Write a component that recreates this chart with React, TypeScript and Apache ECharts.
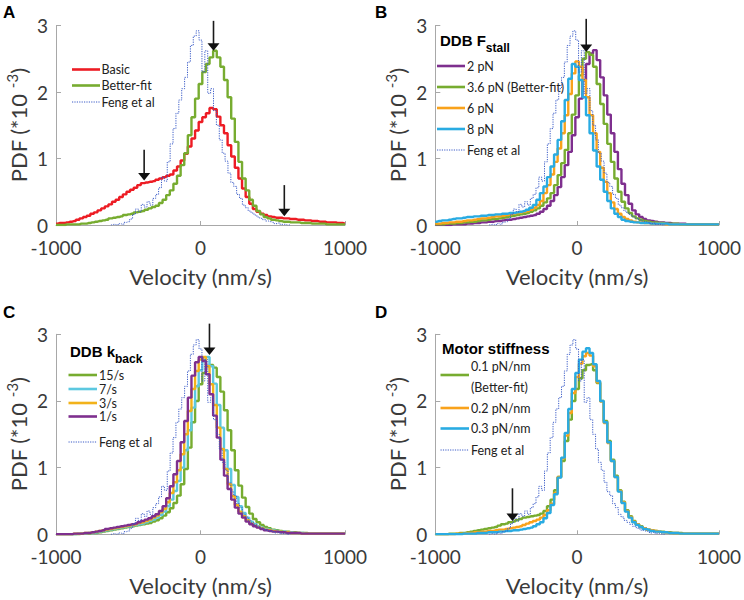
import React, { useEffect, useRef } from "react";
import * as echarts from "echarts";

// ---------- histogram bins ----------
const BIN_START = -1000;
const BIN_STEP = 25;
const FENG_START = -620;
const FENG_STEP = 20;

// ---------- Panel A ----------
const basicA = [
  0.02, 0.03, 0.03, 0.04, 0.05, 0.06, 0.08, 0.10, 0.12, 0.14,
  0.17, 0.19, 0.22, 0.25, 0.28, 0.31, 0.35, 0.38, 0.42, 0.46,
  0.50, 0.53, 0.56, 0.60, 0.63, 0.64, 0.65, 0.66, 0.68, 0.70,
  0.72, 0.74, 0.76, 0.82, 0.88, 0.97, 1.07, 1.18, 1.30, 1.42,
  1.55, 1.62, 1.68, 1.76, 1.74, 1.63, 1.50, 1.38, 1.20, 1.03,
  0.86, 0.70, 0.55, 0.42, 0.32, 0.24, 0.20, 0.17, 0.15, 0.13,
  0.12, 0.11, 0.11, 0.10, 0.10, 0.09, 0.09, 0.08, 0.08, 0.07,
  0.07, 0.06, 0.06, 0.05, 0.05, 0.04, 0.04, 0.04, 0.03, 0.03,
  0.02,
];
const betterFitA = [
  0.00, 0.00, 0.00, 0.01, 0.01, 0.01, 0.01, 0.02, 0.02, 0.03,
  0.04, 0.05, 0.06, 0.07, 0.08, 0.10, 0.11, 0.12, 0.13, 0.15,
  0.16, 0.17, 0.19, 0.20, 0.21, 0.23, 0.25, 0.27, 0.29, 0.33,
  0.38, 0.45, 0.52, 0.62, 0.74, 0.90, 1.08, 1.35, 1.62, 1.90,
  2.12, 2.30, 2.42, 2.52, 2.62, 2.52, 2.38, 2.18, 1.92, 1.60,
  1.25, 0.95, 0.70, 0.52, 0.38, 0.29, 0.21, 0.16, 0.12, 0.10,
  0.08, 0.07, 0.06, 0.05, 0.05, 0.04, 0.04, 0.04, 0.03, 0.03,
  0.03, 0.02, 0.02, 0.02, 0.02, 0.01, 0.01, 0.01, 0.01, 0.01,
  0.01,
];

// ---------- Feng et al (experimental, shared by all panels) ----------
const fengPdf = [
  0.00, 0.01, 0.00, 0.02, 0.01, 0.04, 0.05, 0.09, 0.16, 0.24,
  0.20, 0.31, 0.27, 0.35, 0.30, 0.40, 0.46, 0.56, 0.72, 0.66,
  0.95, 1.22, 1.45, 1.68, 1.88, 2.05, 2.22, 2.45, 2.70, 2.84,
  2.92, 2.78, 2.30, 2.62, 1.98, 2.05, 1.72, 1.50, 1.28, 1.08,
  0.96, 0.78, 0.64, 0.58, 0.46, 0.40, 0.30, 0.26, 0.21, 0.18,
  0.15, 0.12, 0.10, 0.08, 0.06, 0.05, 0.04, 0.02, 0.03, 0.01,
  0.01, 0.00, 0.00,
];

// ---------- Panel B : DDB Fstall ----------
const stall2pN = [
  0.00, 0.00, 0.00, 0.00, 0.00, 0.01, 0.01, 0.01, 0.01, 0.02,
  0.02, 0.03, 0.03, 0.04, 0.04, 0.05, 0.05, 0.06, 0.06, 0.07,
  0.08, 0.08, 0.09, 0.10, 0.11, 0.12, 0.13, 0.14, 0.15, 0.17,
  0.20, 0.24, 0.29, 0.36, 0.45, 0.57, 0.72, 0.90, 1.10, 1.35,
  1.62, 1.90, 2.18, 2.42, 2.58, 2.63, 2.48, 2.22, 1.95, 1.66,
  1.38, 1.10, 0.84, 0.62, 0.45, 0.32, 0.22, 0.16, 0.12, 0.09,
  0.07, 0.06, 0.05, 0.04, 0.04, 0.03, 0.03, 0.02, 0.02, 0.02,
  0.02, 0.01, 0.01, 0.01, 0.01, 0.01, 0.01, 0.01, 0.01, 0.01,
  0.01,
];
const stall36pN = [
  0.01, 0.01, 0.01, 0.02, 0.02, 0.02, 0.03, 0.03, 0.04, 0.04,
  0.05, 0.05, 0.06, 0.07, 0.07, 0.08, 0.09, 0.09, 0.10, 0.11,
  0.12, 0.13, 0.14, 0.15, 0.16, 0.17, 0.18, 0.20, 0.22, 0.25,
  0.29, 0.34, 0.40, 0.48, 0.60, 0.75, 0.93, 1.13, 1.38, 1.66,
  1.95, 2.25, 2.50, 2.60, 2.56, 2.38, 2.12, 1.82, 1.52, 1.22,
  0.95, 0.70, 0.50, 0.35, 0.25, 0.18, 0.13, 0.10, 0.08, 0.06,
  0.05, 0.04, 0.04, 0.03, 0.03, 0.02, 0.02, 0.02, 0.02, 0.01,
  0.01, 0.01, 0.01, 0.01, 0.01, 0.01, 0.01, 0.01, 0.01, 0.01,
  0.01,
];
const stall6pN = [
  0.02, 0.02, 0.03, 0.03, 0.04, 0.04, 0.05, 0.05, 0.06, 0.07,
  0.07, 0.08, 0.09, 0.10, 0.10, 0.11, 0.12, 0.13, 0.13, 0.14,
  0.15, 0.16, 0.17, 0.18, 0.19, 0.20, 0.21, 0.23, 0.26, 0.30,
  0.36, 0.48, 0.60, 0.76, 0.95, 1.15, 1.38, 1.65, 1.97, 2.28,
  2.46, 2.38, 2.18, 1.92, 1.65, 1.38, 1.10, 0.86, 0.65, 0.48,
  0.34, 0.24, 0.17, 0.12, 0.09, 0.07, 0.05, 0.04, 0.04, 0.03,
  0.03, 0.02, 0.02, 0.02, 0.02, 0.01, 0.01, 0.01, 0.01, 0.01,
  0.01, 0.01, 0.01, 0.01, 0.01, 0.01, 0.01, 0.01, 0.01, 0.01,
  0.01,
];
const stall8pN = [
  0.05, 0.06, 0.07, 0.07, 0.08, 0.09, 0.10, 0.10, 0.11, 0.12,
  0.12, 0.13, 0.13, 0.14, 0.14, 0.15, 0.15, 0.16, 0.16, 0.17,
  0.17, 0.18, 0.18, 0.19, 0.20, 0.21, 0.23, 0.26, 0.30, 0.38,
  0.48, 0.58, 0.72, 0.88, 1.06, 1.28, 1.56, 1.88, 2.20, 2.42,
  2.38, 2.18, 1.92, 1.65, 1.38, 1.12, 0.88, 0.68, 0.50, 0.36,
  0.25, 0.17, 0.12, 0.08, 0.06, 0.05, 0.04, 0.04, 0.03, 0.03,
  0.03, 0.02, 0.02, 0.02, 0.02, 0.02, 0.01, 0.01, 0.01, 0.01,
  0.01, 0.01, 0.01, 0.01, 0.01, 0.01, 0.01, 0.01, 0.01, 0.01,
  0.01,
];

// ---------- Panel C : DDB kback ----------
const kback15 = [
  0.00, 0.00, 0.00, 0.00, 0.00, 0.00, 0.00, 0.01, 0.01, 0.01,
  0.02, 0.02, 0.03, 0.04, 0.05, 0.06, 0.07, 0.08, 0.09, 0.10,
  0.11, 0.12, 0.13, 0.14, 0.15, 0.16, 0.17, 0.19, 0.21, 0.24,
  0.28, 0.33, 0.39, 0.47, 0.58, 0.75, 0.98, 1.30, 1.68, 2.00,
  2.25, 2.42, 2.52, 2.54, 2.50, 2.36, 2.14, 1.86, 1.56, 1.26,
  0.96, 0.73, 0.55, 0.41, 0.31, 0.23, 0.18, 0.14, 0.11, 0.09,
  0.07, 0.06, 0.05, 0.04, 0.04, 0.03, 0.03, 0.02, 0.02, 0.02,
  0.01, 0.01, 0.01, 0.01, 0.01, 0.01, 0.01, 0.01, 0.01, 0.01,
  0.01,
];
const kback7 = [
  0.00, 0.00, 0.00, 0.00, 0.00, 0.00, 0.01, 0.01, 0.01, 0.02,
  0.02, 0.03, 0.04, 0.05, 0.06, 0.07, 0.08, 0.09, 0.10, 0.11,
  0.12, 0.13, 0.14, 0.15, 0.16, 0.18, 0.20, 0.22, 0.25, 0.29,
  0.34, 0.42, 0.52, 0.65, 0.80, 1.00, 1.26, 1.56, 1.90, 2.22,
  2.46, 2.62, 2.66, 2.52, 2.26, 1.94, 1.60, 1.26, 0.98, 0.74,
  0.56, 0.42, 0.32, 0.25, 0.19, 0.15, 0.12, 0.10, 0.08, 0.07,
  0.06, 0.05, 0.04, 0.04, 0.03, 0.03, 0.02, 0.02, 0.02, 0.01,
  0.01, 0.01, 0.01, 0.01, 0.01, 0.01, 0.01, 0.01, 0.01, 0.01,
  0.01,
];
const kback3 = [
  0.00, 0.00, 0.00, 0.00, 0.00, 0.01, 0.01, 0.01, 0.02, 0.02,
  0.03, 0.04, 0.05, 0.06, 0.07, 0.08, 0.09, 0.10, 0.11, 0.12,
  0.13, 0.14, 0.15, 0.17, 0.18, 0.20, 0.22, 0.25, 0.28, 0.33,
  0.38, 0.48, 0.62, 0.78, 0.96, 1.20, 1.50, 1.85, 2.18, 2.45,
  2.62, 2.66, 2.52, 2.25, 1.94, 1.60, 1.28, 0.98, 0.75, 0.57,
  0.44, 0.34, 0.27, 0.21, 0.16, 0.13, 0.11, 0.09, 0.07, 0.06,
  0.05, 0.04, 0.04, 0.03, 0.03, 0.02, 0.02, 0.02, 0.01, 0.01,
  0.01, 0.01, 0.01, 0.01, 0.01, 0.01, 0.01, 0.01, 0.01, 0.01,
  0.01,
];
const kback1 = [
  0.00, 0.00, 0.00, 0.00, 0.00, 0.01, 0.01, 0.01, 0.02, 0.02,
  0.03, 0.04, 0.05, 0.06, 0.08, 0.09, 0.10, 0.11, 0.12, 0.13,
  0.14, 0.15, 0.16, 0.18, 0.20, 0.22, 0.24, 0.27, 0.30, 0.35,
  0.42, 0.54, 0.72, 0.90, 1.10, 1.38, 1.70, 2.05, 2.38, 2.58,
  2.66, 2.60, 2.40, 2.10, 1.78, 1.45, 1.12, 0.88, 0.68, 0.52,
  0.40, 0.31, 0.25, 0.19, 0.15, 0.12, 0.10, 0.08, 0.06, 0.05,
  0.04, 0.04, 0.03, 0.03, 0.02, 0.02, 0.02, 0.02, 0.01, 0.01,
  0.01, 0.01, 0.01, 0.01, 0.01, 0.01, 0.01, 0.01, 0.01, 0.01,
  0.01,
];

// ---------- Panel D : Motor stiffness ----------
const stiff01 = [
  0.00, 0.00, 0.00, 0.00, 0.01, 0.01, 0.01, 0.02, 0.02, 0.03,
  0.04, 0.05, 0.06, 0.07, 0.08, 0.09, 0.10, 0.11, 0.13, 0.15,
  0.16, 0.18, 0.19, 0.21, 0.23, 0.25, 0.26, 0.27, 0.28, 0.29,
  0.31, 0.35, 0.42, 0.52, 0.66, 0.86, 1.10, 1.40, 1.72, 2.00,
  2.18, 2.34, 2.46, 2.54, 2.55, 2.46, 2.27, 2.00, 1.70, 1.40,
  1.12, 0.88, 0.66, 0.49, 0.36, 0.27, 0.20, 0.15, 0.12, 0.09,
  0.07, 0.06, 0.05, 0.04, 0.04, 0.03, 0.03, 0.02, 0.02, 0.02,
  0.01, 0.01, 0.01, 0.01, 0.01, 0.01, 0.01, 0.01, 0.01, 0.01,
  0.01,
];
const stiff02 = [
  0.00, 0.00, 0.00, 0.00, 0.00, 0.00, 0.01, 0.01, 0.01, 0.02,
  0.02, 0.03, 0.03, 0.04, 0.04, 0.05, 0.05, 0.06, 0.07, 0.07,
  0.08, 0.09, 0.10, 0.11, 0.12, 0.14, 0.16, 0.18, 0.20, 0.22,
  0.25, 0.29, 0.36, 0.46, 0.62, 0.86, 1.14, 1.48, 1.82, 2.12,
  2.36, 2.56, 2.67, 2.72, 2.68, 2.52, 2.28, 1.99, 1.67, 1.37,
  1.10, 0.86, 0.65, 0.48, 0.35, 0.26, 0.19, 0.15, 0.11, 0.09,
  0.07, 0.06, 0.05, 0.04, 0.03, 0.03, 0.02, 0.02, 0.02, 0.01,
  0.01, 0.01, 0.01, 0.01, 0.01, 0.01, 0.01, 0.01, 0.01, 0.01,
  0.01,
];
const stiff03 = [
  0.00, 0.00, 0.00, 0.00, 0.00, 0.00, 0.00, 0.00, 0.01, 0.01,
  0.01, 0.01, 0.02, 0.02, 0.02, 0.03, 0.03, 0.03, 0.04, 0.04,
  0.05, 0.05, 0.06, 0.06, 0.07, 0.08, 0.09, 0.10, 0.12, 0.15,
  0.18, 0.24, 0.32, 0.44, 0.60, 0.85, 1.15, 1.52, 1.88, 2.18,
  2.42, 2.62, 2.74, 2.79, 2.72, 2.55, 2.30, 2.00, 1.68, 1.38,
  1.10, 0.86, 0.64, 0.47, 0.34, 0.25, 0.18, 0.14, 0.11, 0.08,
  0.07, 0.05, 0.04, 0.04, 0.03, 0.03, 0.02, 0.02, 0.02, 0.01,
  0.01, 0.01, 0.01, 0.01, 0.01, 0.01, 0.01, 0.01, 0.01, 0.01,
  0.01,
];

// ---------- arrows: [velocity, pdf at tail, pdf at tip] ----------
const arrowsA = [[90, 3.07, 2.62], [-390, 1.13, 0.67], [580, 0.6, 0.13]];
const arrowsB = [[64, 3.1, 2.6]];
const arrowsC = [[62, 3.16, 2.69]];
const arrowsD = [[-456, 0.69, 0.2]];

// ---------- colours ----------
const RED = "#ED1C24";
const GREEN = "#77AC30";
const PURPLE = "#7E2F8E";
const ORANGE = "#F9A21B";
const BLUE = "#29ABE2";
const CYAN = "#5CC8E0";
const GOLD = "#F2B21A";
const FENG = "#3A5BC7";

const TXT = "#3a3a3a";
const AXIS = "#a8a8a8";
const LAT = "Lato, 'Open Sans', sans-serif";
const ARIAL = "'Liberation Sans', Arial, sans-serif";

const grids = [
  { left: 56, top: 25.5, width: 289, height: 199.5 },
  { left: 435.3, top: 25.5, width: 288.4, height: 199.5 },
  { left: 56, top: 334.3, width: 289, height: 200 },
  { left: 435.3, top: 334.3, width: 288.4, height: 200 },
];

function pairs(ys: number[], start: number, step: number) {
  return ys.map((y, i) => [start + i * step, y]);
}

function model(name: string, ys: number[], color: string, p: number) {
  return {
    type: "line",
    name,
    xAxisIndex: p,
    yAxisIndex: p,
    data: pairs(ys, BIN_START, BIN_STEP),
    step: "middle",
    showSymbol: false,
    symbol: "none",
    silent: true,
    lineStyle: { color, width: 2.4 },
    itemStyle: { color },
  };
}

function feng(p: number) {
  return {
    type: "line",
    name: "Feng et al",
    xAxisIndex: p,
    yAxisIndex: p,
    data: pairs(fengPdf, FENG_START, FENG_STEP),
    step: "middle",
    showSymbol: false,
    symbol: "none",
    silent: true,
    lineStyle: { color: FENG, width: 1, type: [1.2, 1.2] },
    itemStyle: { color: FENG },
  };
}

function arrows(data: number[][], p: number) {
  return {
    type: "custom",
    xAxisIndex: p,
    yAxisIndex: p,
    data,
    clip: false,
    silent: true,
    z: 10,
    renderItem: (params: any, api: any) => {
      const top = api.coord([api.value(0), api.value(1)]);
      const tip = api.coord([api.value(0), api.value(2)]);
      const hh = 7.5;
      const hw = 6;
      return {
        type: "group",
        children: [
          {
            type: "line",
            shape: { x1: top[0], y1: top[1], x2: tip[0], y2: tip[1] - hh + 1 },
            style: { stroke: "#1a1a1a", lineWidth: 1.6 },
          },
          {
            type: "polygon",
            shape: {
              points: [
                [tip[0] - hw, tip[1] - hh],
                [tip[0] + hw, tip[1] - hh],
                [tip[0], tip[1]],
              ],
            },
            style: { fill: "#111" },
          },
        ],
      };
    },
  };
}

function xAxis(p: number) {
  return {
    type: "value",
    gridIndex: p,
    min: -1000,
    max: 1000,
    interval: 1000,
    axisLine: { show: true, onZero: false, lineStyle: { color: AXIS, width: 1 } },
    axisTick: { show: true, inside: true, length: 4, lineStyle: { color: AXIS } },
    axisLabel: {
      color: TXT,
      fontSize: 19,
      fontFamily: LAT,
      margin: 13,
      formatter: (v: number) => String(v),
    },
    splitLine: { show: false },
    name: "Velocity (nm/s)",
    nameLocation: "middle",
    nameGap: 40,
    nameTextStyle: { color: TXT, fontSize: 22, fontFamily: LAT },
  };
}

function yAxis(p: number) {
  return {
    type: "value",
    gridIndex: p,
    min: 0,
    max: 3,
    interval: 1,
    axisLine: { show: true, onZero: false, lineStyle: { color: AXIS, width: 1 } },
    axisTick: { show: true, inside: true, length: 5, lineStyle: { color: AXIS } },
    axisLabel: { color: TXT, fontSize: 19, fontFamily: LAT, margin: 8 },
    splitLine: { show: false },
    name: "{a|PDF (*10 }{s|-3}{a|)}",
    nameLocation: "middle",
    nameRotate: 90,
    nameGap: 24,
    nameTextStyle: {
      color: TXT,
      rich: {
        a: { fontSize: 22, fontFamily: LAT, color: TXT, lineHeight: 28 },
        s: { fontSize: 15, fontFamily: LAT, color: TXT, lineHeight: 14, verticalAlign: "top" },
      },
    },
  };
}

type Item = { label: string; color: string; y: number; dotted?: boolean; lineY?: number };

function legend(items: Item[], x1: number, x2: number, tx: number) {
  const els: any[] = [];
  items.forEach((it) => {
    if (it.color) {
      const ly = it.lineY ?? it.y;
      els.push({
        type: "line",
        silent: true,
        shape: { x1, y1: ly, x2, y2: ly },
        style: it.dotted
          ? { stroke: it.color, lineWidth: 1, lineDash: [1.2, 1.2] }
          : { stroke: it.color, lineWidth: 2.6 },
      });
    }
    els.push({
      type: "text",
      silent: true,
      x: tx,
      y: it.y,
      style: {
        text: it.label,
        fill: "#222",
        fontSize: 12.5,
        fontFamily: LAT,
        verticalAlign: "middle",
        align: "left",
      },
    });
  });
  return els;
}

function title(x: number, y: number, main: string, sub: string, size = 15) {
  return {
    type: "text",
    silent: true,
    x,
    y,
    style: {
      text: sub ? `{a|${main}}{b|${sub}}` : `{a|${main}}`,
      rich: {
        a: { fontSize: size, fontWeight: "bold", fontFamily: ARIAL, fill: "#000", lineHeight: 28 },
        b: { fontSize: 12, fontWeight: "bold", fontFamily: ARIAL, fill: "#000", lineHeight: 12, verticalAlign: "bottom" },
      },
      verticalAlign: "middle",
      align: "left",
    },
  };
}

function panelLabel(x: number, y: number, t: string) {
  return {
    type: "text",
    silent: true,
    x,
    y,
    style: { text: t, fontSize: 17, fontWeight: "bold", fontFamily: ARIAL, fill: "#000", verticalAlign: "middle" },
  };
}

function buildOption() {
  const graphic: any[] = [
    panelLabel(3, 12.5, "A"),
    panelLabel(375, 12.5, "B"),
    panelLabel(3, 312.5, "C"),
    panelLabel(375, 312.5, "D"),
    ...legend(
      [
        { label: "Basic", color: RED, y: 69.5 },
        { label: "Better-fit", color: GREEN, y: 85.5 },
        { label: "Feng et al", color: FENG, y: 102, dotted: true },
      ],
      72, 100, 101.5
    ),
    title(440, 40, "DDB F", "stall"),
    ...legend(
      [
        { label: "2 pN", color: PURPLE, y: 66 },
        { label: "3.6 pN (Better-fit)", color: GREEN, y: 87 },
        { label: "6 pN", color: ORANGE, y: 108 },
        { label: "8 pN", color: BLUE, y: 129 },
        { label: "Feng et al", color: FENG, y: 150, dotted: true },
      ],
      437, 465, 467
    ),
    title(70, 351, "DDB k", "back"),
    ...legend(
      [
        { label: "15/s", color: GREEN, y: 375 },
        { label: "7/s", color: CYAN, y: 389 },
        { label: "3/s", color: GOLD, y: 403 },
        { label: "1/s", color: PURPLE, y: 416.5 },
        { label: "Feng et al", color: FENG, y: 442, dotted: true },
      ],
      68.5, 97, 99
    ),
    title(442, 348, "Motor stiffness", ""),
    ...legend(
      [
        { label: "0.1 pN/nm", color: GREEN, y: 366, lineY: 375 },
        { label: "(Better-fit)", color: "", y: 387.5 },
        { label: "0.2 pN/nm", color: ORANGE, y: 408 },
        { label: "0.3 pN/nm", color: BLUE, y: 428.5 },
        { label: "Feng et al", color: FENG, y: 450, dotted: true },
      ],
      440.5, 469, 471
    ),
  ];

  const series: any[] = [
    model("Basic", basicA, RED, 0),
    model("Better-fit", betterFitA, GREEN, 0),
    feng(0),
    arrows(arrowsA, 0),

    model("2 pN", stall2pN, PURPLE, 1),
    model("3.6 pN (Better-fit)", stall36pN, GREEN, 1),
    model("6 pN", stall6pN, ORANGE, 1),
    model("8 pN", stall8pN, BLUE, 1),
    feng(1),
    arrows(arrowsB, 1),

    model("15/s", kback15, GREEN, 2),
    model("7/s", kback7, CYAN, 2),
    model("3/s", kback3, GOLD, 2),
    model("1/s", kback1, PURPLE, 2),
    feng(2),
    arrows(arrowsC, 2),

    model("0.1 pN/nm", stiff01, GREEN, 3),
    model("0.2 pN/nm", stiff02, ORANGE, 3),
    model("0.3 pN/nm", stiff03, BLUE, 3),
    feng(3),
    arrows(arrowsD, 3),
  ];

  return {
    animation: false,
    backgroundColor: "#ffffff",
    grid: grids,
    xAxis: [0, 1, 2, 3].map(xAxis),
    yAxis: [0, 1, 2, 3].map(yAxis),
    series,
    graphic,
  };
}

export default function App() {
  const ref = useRef<HTMLDivElement>(null);
  useEffect(() => {
    document.body.style.margin = "0";
    const chart = echarts.init(ref.current as HTMLDivElement, null, { renderer: "svg" });
    chart.setOption(buildOption() as any);
    return () => chart.dispose();
  }, []);
  return <div ref={ref} style={{ width: 744, height: 600 }} />;
}
